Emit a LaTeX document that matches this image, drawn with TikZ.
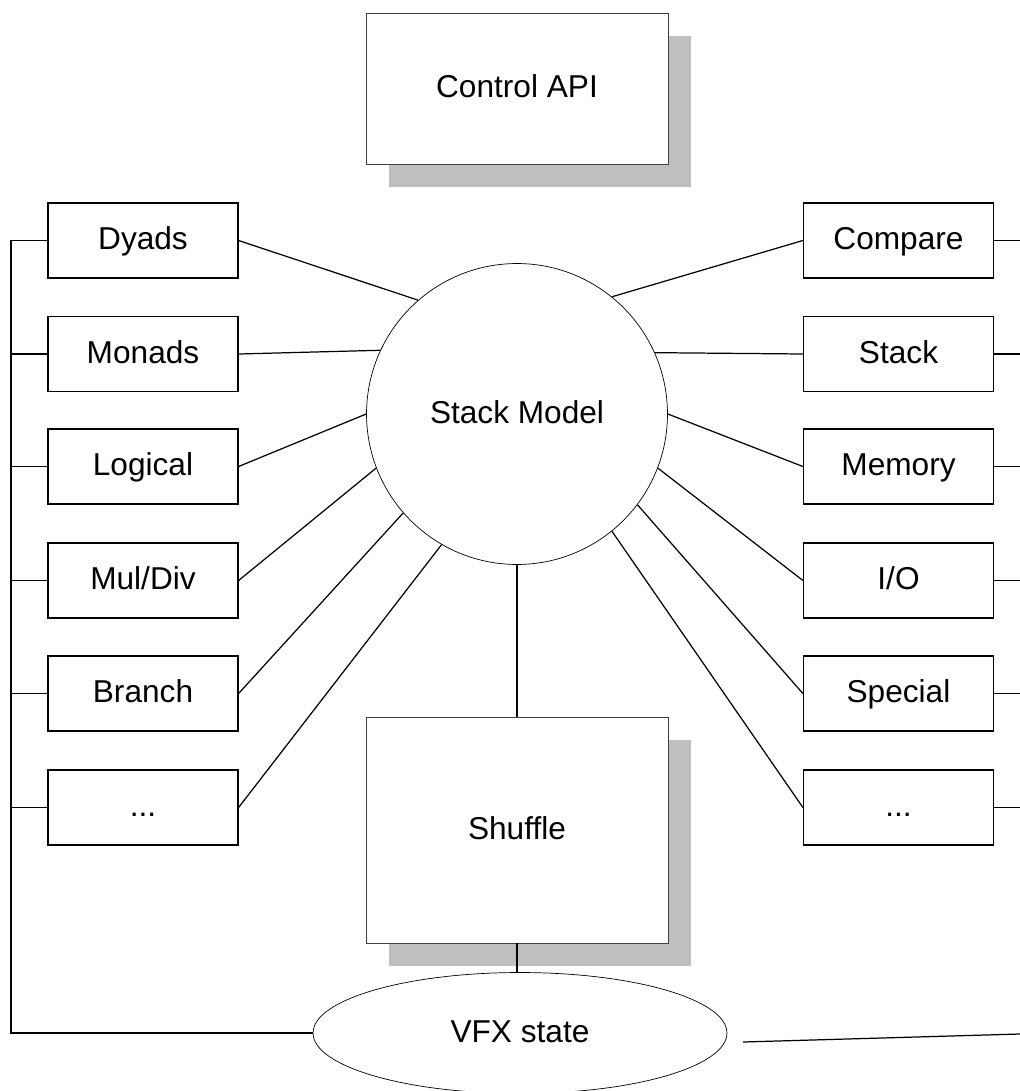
\documentclass[tikz,border=0pt]{standalone}
\usepackage{fontspec}
\setmainfont{Liberation Sans}
\usetikzlibrary{shapes.geometric,shadows}

\begin{document}
\begin{tikzpicture}
      [x=0.02cm,y=-0.02cm,
       every node/.style={font=\fontsize{18}{22}\selectfont,inner sep=0pt,text height=14.4pt,text depth=3.8pt},
       op/.style={draw,line width=.7pt,minimum width=3.8cm,minimum height=1.5cm},
       unit/.style={draw=black!75,line width=.5pt,fill=white,minimum width=6.04cm,
         drop shadow={shadow xshift=.46cm,shadow yshift=-.46cm,fill=black!25,opacity=1}},
       wire/.style={line width=.7pt}]
      \useasboundingbox (0,0) rectangle (1020,1091);

      \node[unit,minimum height=3.02cm] (api) at (517,88.5) {Control API};
      \node[circle,draw,line width=.4pt,minimum size=6.02cm] (model) at (517,414) {Stack Model};
      \node[unit,minimum height=4.52cm] (shuffle) at (517,830) {Shuffle};
      \node[ellipse,draw,line width=.4pt,minimum width=8.28cm,minimum height=2.42cm] (vfx) at (520,1033) {VFX state};

      \node[op] (dyads)   at (143,240.5) {Dyads};
      \node[op] (monads)  at (143,354)   {Monads};
      \node[op] (logical) at (143,466.5) {Logical};
      \node[op] (muldiv)  at (143,580.5) {Mul/Div};
      \node[op] (branch)  at (143,693.5) {Branch};
      \node[op] (ldots)   at (143,807.5) {...};

      \node[op] (compare) at (898.5,240.5) {Compare};
      \node[op] (stack)   at (898.5,354)   {Stack};
      \node[op] (memory)  at (898.5,466.5) {Memory};
      \node[op] (io)      at (898.5,580.5) {I/O};
      \node[op] (special) at (898.5,693.5) {Special};
      \node[op] (rdots)   at (898.5,807.5) {...};

      \coordinate (lbus) at (11,240.5);
      \coordinate (rbus) at (1020,240.5);
      \coordinate (vfxout) at (743,1042);
      \coordinate (vfxbus) at (1020,1034);

      \foreach \from/\ang in {dyads/131,monads/155,logical/180,muldiv/201,branch/221,ldots/240}
        \draw[wire] (\from.east) -- (model.\ang);
      \foreach \from/\ang in {compare/51,stack/24,memory/0,io/-21,special/-37,rdots/-51}
        \draw[wire] (\from.west) -- (model.\ang);

      \draw[wire] (dyads.west) -- (lbus) |- (vfx.west);
      \foreach \from in {monads,logical,muldiv,branch,ldots}
        \draw[wire] (\from.west) -- (\from.west -| lbus);
      \foreach \from in {compare,stack,memory,io,special,rdots}
        \draw[wire] (\from.east) -- (\from.east -| rbus);

      \draw[wire] (model.south) -- (shuffle.north);
      \draw[wire] (shuffle.south) -- (shuffle.south |- vfx.north);
      \draw[wire] (vfxout) -- (vfxbus);

    \end{tikzpicture}
\end{document}
